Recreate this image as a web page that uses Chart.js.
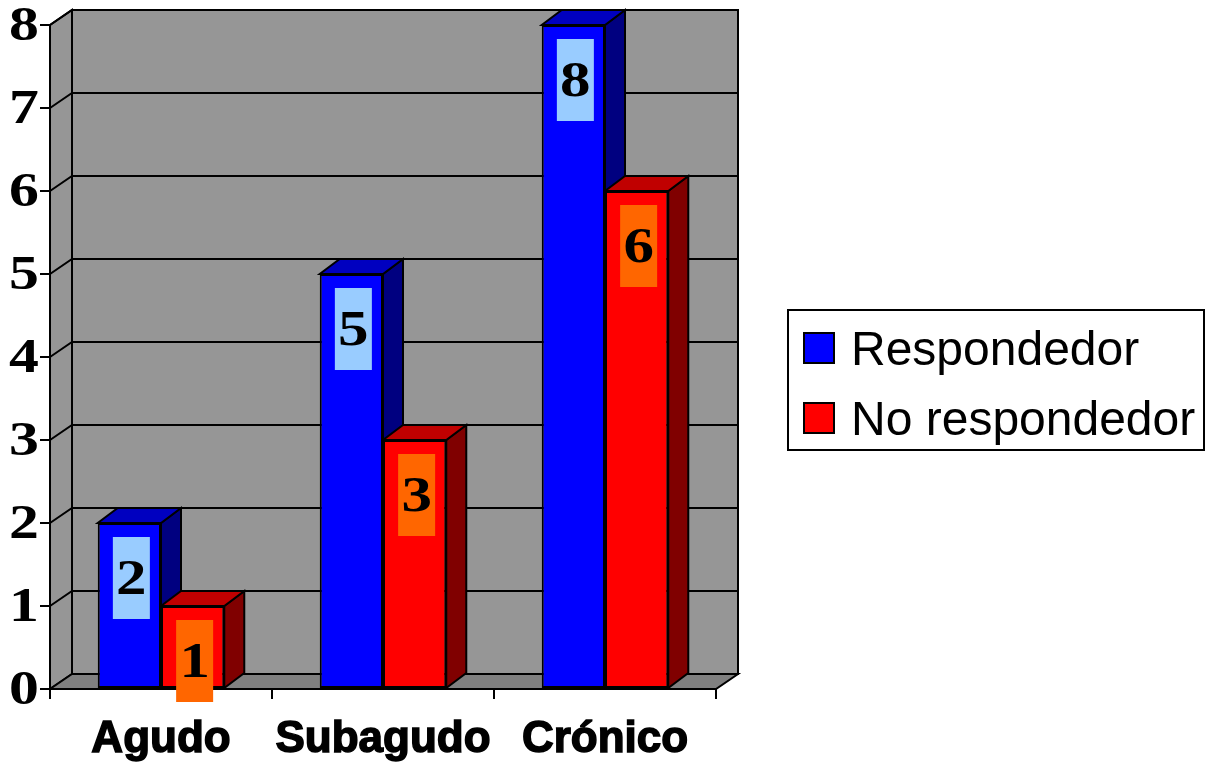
<!DOCTYPE html>
<html>
<head>
<meta charset="utf-8">
<title>Respondedor / No respondedor</title>
<script src="https://cdn.jsdelivr.net/npm/chart.js@4/dist/chart.umd.min.js"></script>
<style>
  html, body { margin: 0; padding: 0; background: #fff; }
  #wrap { width: 1213px; height: 763px; }
</style>
</head>
<body>
<div id="wrap"><canvas id="grafico" width="1213" height="763"></canvas></div>
<script>
// categorías y valores por grupo
const categorias = ['Agudo', 'Subagudo', 'Crónico'];
const respondedor = [2, 5, 8];
const noRespondedor = [1, 3, 6];
const ticksY = [0, 1, 2, 3, 4, 5, 6, 7, 8];

// caras del efecto 3D: frente, lateral, tapa, caja de etiqueta
const colores = [
    { front: '#0000FF', side: '#000080', top: '#0000C0', box: '#99CCFF' },
    { front: '#FF0000', side: '#800000', top: '#C00000', box: '#FF6600' }
];
const fondoX = 22, fondoY = -15;   // profundidad de paredes
const barraX = 20, barraY = -15;   // profundidad de barras
const fuenteNum = '"Liberation Serif", "Times New Roman", serif';

function poly(ctx, pts, fill) {
    ctx.beginPath();
    ctx.moveTo(pts[0][0], pts[0][1]);
    for (let i = 1; i < pts.length; i++) ctx.lineTo(pts[i][0], pts[i][1]);
    ctx.closePath();
    ctx.fillStyle = fill;
    ctx.fill();
    ctx.stroke();
}

// número en negrita, algo ensanchado
function numero(ctx, txt, x, y, size, align) {
    ctx.save();
    ctx.translate(x, y);
    ctx.scale(1.22, 1);
    ctx.font = 'bold ' + size + 'px ' + fuenteNum;
    ctx.textAlign = align;
    ctx.textBaseline = 'middle';
    ctx.fillStyle = '#000';
    ctx.fillText(txt, 0, 0);
    ctx.restore();
}

const paredes3d = {
    id: 'paredes3d',
    beforeDatasetsDraw(chart) {
        const ctx = chart.ctx;
        const a = chart.chartArea;
        const y = chart.scales.y;
        const L = a.left, R = a.right, T = a.top, B = a.bottom;
        ctx.save();
        ctx.strokeStyle = '#000';
        ctx.lineWidth = 2;
        ctx.lineJoin = 'miter';
        // pared izquierda, pared de fondo, piso
        poly(ctx, [[L, B], [L, T], [L + fondoX, T + fondoY], [L + fondoX, B + fondoY]], '#969696');
        poly(ctx, [[L + fondoX, T + fondoY], [R + fondoX, T + fondoY], [R + fondoX, B + fondoY], [L + fondoX, B + fondoY]], '#969696');
        poly(ctx, [[L, B], [R, B], [R + fondoX, B + fondoY], [L + fondoX, B + fondoY]], '#808080');
        // líneas de división
        ticksY.slice(1).forEach(v => {
            const py = y.getPixelForValue(v);
            ctx.beginPath();
            ctx.moveTo(L, py);
            ctx.lineTo(L + fondoX, py + fondoY);
            ctx.lineTo(R + fondoX, py + fondoY);
            ctx.stroke();
        });
        // lateral y tapa de cada barra, en orden de serie
        chart.data.datasets.forEach((ds, i) => {
            const c = colores[i];
            chart.getDatasetMeta(i).data.forEach(bar => {
                const p = bar.getProps(['x', 'y', 'base', 'width'], true);
                const l = p.x - p.width / 2, r = p.x + p.width / 2;
                poly(ctx, [[r, p.y], [r + barraX, p.y + barraY], [r + barraX, p.base + barraY], [r, p.base]], c.side);
                poly(ctx, [[l, p.y], [r, p.y], [r + barraX, p.y + barraY], [l + barraX, p.y + barraY]], c.top);
            });
        });
        ctx.restore();
    },
    afterDatasetsDraw(chart) {
        const ctx = chart.ctx;
        chart.data.datasets.forEach((ds, i) => {
            chart.getDatasetMeta(i).data.forEach((bar, j) => {
                const p = bar.getProps(['x', 'y'], true);
                const cx = p.x + 2, cy = p.y + 55;
                ctx.fillStyle = colores[i].box;
                ctx.fillRect(cx - 18.5, cy - 41, 37, 82);
                numero(ctx, String(ds.data[j]), cx, cy + 3, 50, 'center');
            });
        });
    },
    afterDraw(chart) {
        const ctx = chart.ctx;
        // rótulos del eje vertical
        const y = chart.scales.y;
        y.ticks.forEach(t => {
            numero(ctx, String(t.value), 39, y.getPixelForValue(t.value) + 2, 49, 'right');
        });
        // leyenda con marco
        ctx.save();
        ctx.fillStyle = '#fff';
        ctx.fillRect(788, 310, 416, 140);
        ctx.strokeStyle = '#000';
        ctx.lineWidth = 2;
        ctx.strokeRect(788, 310, 416, 140);
        ctx.font = '48px "Liberation Sans", Arial, sans-serif';
        ctx.textAlign = 'left';
        ctx.textBaseline = 'alphabetic';
        chart.data.datasets.forEach((ds, i) => {
            const top = 333 + i * 70;
            ctx.fillStyle = colores[i].front;
            ctx.fillRect(804, top, 30, 30);
            ctx.strokeRect(804, top, 30, 30);
            ctx.fillStyle = '#000';
            ctx.fillText(ds.label, 851, top + 32);
        });
        ctx.restore();
    }
};

new Chart(document.getElementById('grafico'), {
    type: 'bar',
    data: {
        labels: categorias,
        datasets: [
            { label: 'Respondedor', data: respondedor, backgroundColor: colores[0].front },
            { label: 'No respondedor', data: noRespondedor, backgroundColor: colores[1].front }
        ]
    },
    plugins: [paredes3d],
    options: {
        responsive: false,
        animation: false,
        events: [],
        layout: { padding: { left: 0, right: 497, top: 25, bottom: 0 } },
        datasets: {
            bar: {
                borderColor: '#000',
                borderWidth: 2,
                borderSkipped: false,
                categoryPercentage: 0.57,
                barPercentage: 1.0
            }
        },
        plugins: {
            legend: { display: false },
            tooltip: { enabled: false }
        },
        scales: {
            x: {
                afterFit(scale) { scale.height = 74; },
                grid: { display: true, drawOnChartArea: false, drawTicks: true, tickLength: 10, color: '#000', lineWidth: 2 },
                border: { display: false },
                ticks: {
                    color: '#000',
                    padding: 14,
                    textStrokeColor: '#000',
                    textStrokeWidth: 1.5,
                    font: { family: '"Liberation Sans", Arial, sans-serif', size: 44, weight: 'bold', lineHeight: 1.2 }
                }
            },
            y: {
                min: 0,
                max: 8,
                afterFit(scale) { scale.width = 50; },
                afterBuildTicks(scale) { scale.ticks = ticksY.map(v => ({ value: v })); },
                grid: { display: true, drawOnChartArea: false, drawTicks: true, tickLength: 10, color: '#000', lineWidth: 2 },
                border: { display: false },
                ticks: { display: false }
            }
        }
    }
});
</script>
</body>
</html>
